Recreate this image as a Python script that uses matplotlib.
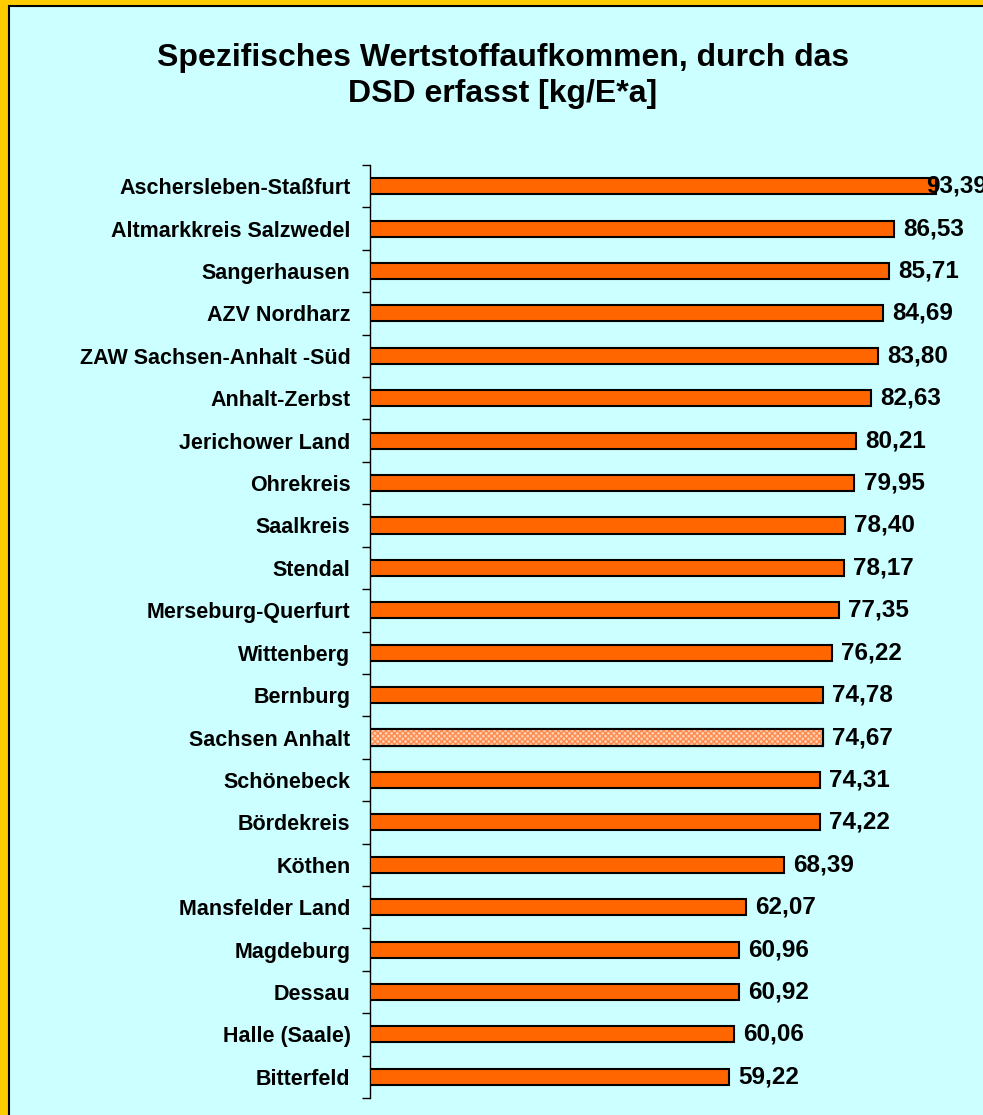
import matplotlib.pyplot as plt
import numpy as np
from matplotlib.patches import Rectangle

regions = ['Aschersleben-Staßfurt', 'Altmarkkreis Salzwedel', 'Sangerhausen',
           'AZV Nordharz', 'ZAW Sachsen-Anhalt -Süd', 'Anhalt-Zerbst',
           'Jerichower Land', 'Ohrekreis', 'Saalkreis', 'Stendal',
           'Merseburg-Querfurt', 'Wittenberg', 'Bernburg', 'Sachsen Anhalt',
           'Schönebeck', 'Bördekreis', 'Köthen', 'Mansfelder Land',
           'Magdeburg', 'Dessau', 'Halle (Saale)', 'Bitterfeld']
values = [93.39, 86.53, 85.71, 84.69, 83.80, 82.63, 80.21, 79.95, 78.40, 78.17,
          77.35, 76.22, 74.78, 74.67, 74.31, 74.22, 68.39, 62.07, 60.96, 60.92,
          60.06, 59.22]
highlight = 'Sachsen Anhalt'

plt.rcParams['font.family'] = ['Liberation Sans', 'DejaVu Sans']

W, H = 983, 1115
fig = plt.figure(figsize=(W / 100, H / 100), dpi=100)
fig.patch.set_facecolor('#FFCC00')
bg = Rectangle((9 / W, -0.01), 1.0, 1 - 6 / H + 0.01,
               transform=fig.transFigure, facecolor='#CCFFFF',
               edgecolor='black', linewidth=1.5, zorder=-5)
fig.patches.append(bg)

ax = fig.add_axes([370 / W, 1 - 1098 / H, 1 - 370 / W, (1098 - 165) / H])
ax.set_facecolor('none')
ax.set_zorder(2)

y = np.arange(len(regions))
colors = ['#FF6600' if r != highlight else '#FFD2B3' for r in regions]
ax.barh(y, values, height=0.38, color=colors, edgecolor='black',
        linewidth=1.5, zorder=3)
# dotted fill for the state average
i = regions.index(highlight)
ax.barh(y[i], values[i], height=0.38, color='none', edgecolor='#FF8A4D',
        hatch='xxxxxx', linewidth=0, zorder=4)
ax.barh(y[i], values[i], height=0.38, color='none', edgecolor='black',
        linewidth=1.5, zorder=5)

for yi, v in zip(y, values):
    ax.text(min(v + 1.5, 91.7), yi, f'{v:.2f}'.replace('.', ','),
            va='center', ha='left', fontsize=17.5, fontweight='bold', zorder=6)

ax.set_xlim(0, 613 / 6.06)
ax.set_ylim(len(regions) - 0.5, -0.5)
ax.set_xticks([])
ax.set_yticks(np.arange(len(regions) + 1) - 0.5)
ax.set_yticklabels([])
ax.set_yticks(y, minor=True)
ax.set_yticklabels(regions, minor=True, fontsize=15.5, fontweight='bold')
ax.tick_params(axis='y', which='major', length=6, width=1, direction='out')
ax.tick_params(axis='y', which='minor', length=0, pad=14)
for s in ['top', 'right', 'bottom']:
    ax.spines[s].set_visible(False)
ax.spines['left'].set_linewidth(1)

fig.text(503 / W, 1 - 76 / H, 'Spezifisches Wertstoffaufkommen, durch das\nDSD erfasst [kg/E*a]',
         ha='center', va='center', fontsize=23, fontweight='bold', linespacing=1.3)

fig.savefig('out.png', dpi=100, facecolor=fig.get_facecolor())
